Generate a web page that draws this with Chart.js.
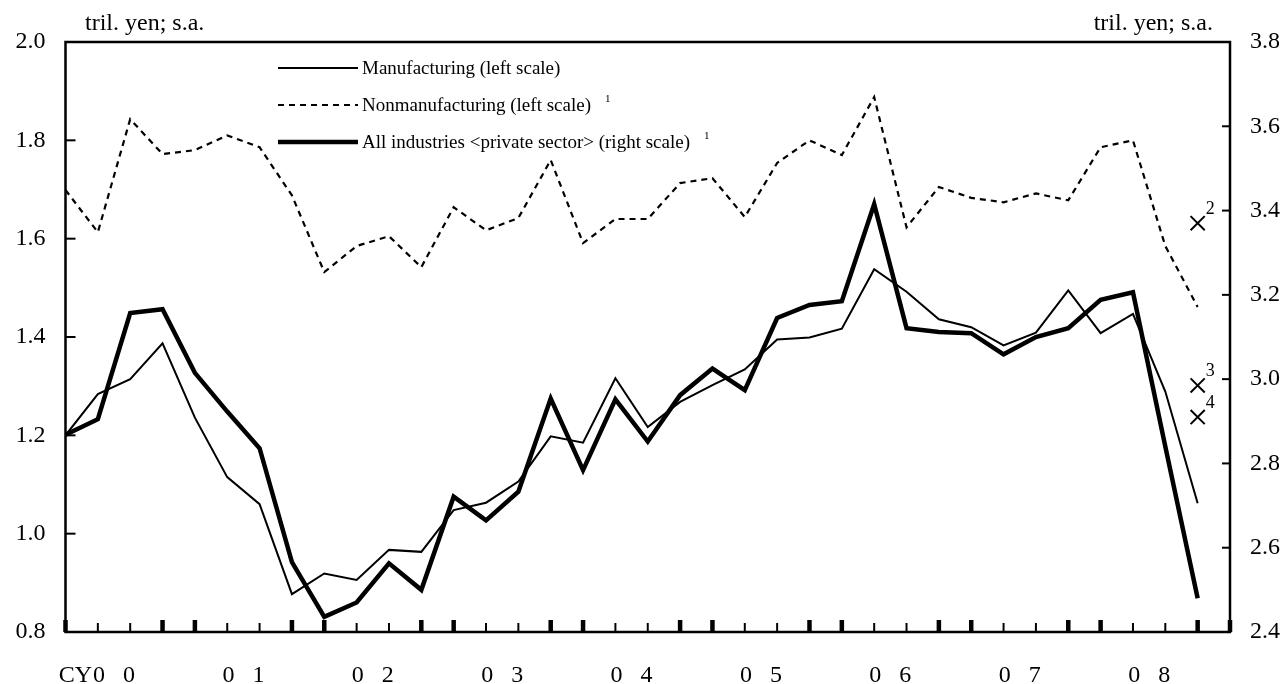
<!DOCTYPE html>
<html>
<head>
<meta charset="utf-8">
<script src="https://cdn.jsdelivr.net/npm/chart.js@4.4.0/dist/chart.umd.min.js"></script>
<style>
  html, body { margin: 0; padding: 0; background: #fff; }
  #wrap { width: 1285px; height: 684px; }
</style>
</head>
<body>
<div id="wrap"><canvas id="chart" width="1285" height="684"></canvas></div>
<script>
// quarterly, CY2000 Q1 .. CY2008 Q4
const yearLabels = ['00', '01', '02', '03', '04', '05', '06', '07', '08'];

// left scale, tril. yen
const manufacturing = [
  1.200, 1.284, 1.314, 1.387, 1.236, 1.115, 1.060, 0.877, 0.919, 0.906, 0.967, 0.963,
  1.048, 1.063, 1.106, 1.198, 1.185, 1.316, 1.217, 1.268, 1.302, 1.334, 1.395, 1.399,
  1.417, 1.538, 1.492, 1.436, 1.420, 1.383, 1.409, 1.495, 1.408, 1.447, 1.289, 1.062
];
const nonmanufacturing = [
  1.699, 1.613, 1.843, 1.772, 1.780, 1.810, 1.786, 1.688, 1.532, 1.585, 1.605, 1.542,
  1.664, 1.617, 1.642, 1.760, 1.591, 1.640, 1.640, 1.713, 1.723, 1.644, 1.754, 1.800,
  1.770, 1.888, 1.623, 1.705, 1.683, 1.674, 1.692, 1.678, 1.786, 1.800, 1.585, 1.461
];
// right scale, tril. yen
const allIndustries = [
  2.868, 2.905, 3.157, 3.166, 3.015, 2.923, 2.836, 2.566, 2.436, 2.470, 2.563, 2.500,
  2.721, 2.665, 2.733, 2.954, 2.784, 2.952, 2.852, 2.962, 3.025, 2.974, 3.145, 3.176,
  3.185, 3.415, 3.121, 3.112, 3.109, 3.059, 3.100, 3.121, 3.188, 3.206, 2.840, 2.480
];
// plan figures for the last quarter (right scale) and their note numbers
const planValues = [3.37, 2.985, 2.91];
const planNotes  = ['2', '3', '4'];

const legendItems = [
  { text: 'Manufacturing (left scale)', note: '', width: 2, dash: [] },
  { text: 'Nonmanufacturing (left scale)', note: '1', width: 2.2, dash: [6, 5] },
  { text: 'All industries <private sector> (right scale)', note: '1', width: 4.5, dash: [] },
];

const SERIF = "'Liberation Serif', 'Times New Roman', serif";
const toXY = (arr) => arr.map((v, i) => ({ x: i, y: v }));
const spaced = (s) => s.split('').join('   ');

// ── frame, inward ticks, legend, notes ──────────────────────────────────────

const decorPlugin = {
  id: 'decor',
  afterDraw(chart) {
    const { ctx, chartArea: a, scales } = chart;
    const xs = scales.x, yL = scales.yL, yR = scales.yR;
    ctx.save();
    ctx.strokeStyle = '#000';
    ctx.fillStyle = '#000';

    // frame
    ctx.lineWidth = 2.5;
    ctx.strokeRect(a.left, a.top, a.right - a.left, a.bottom - a.top);

    // y ticks pointing inward
    ctx.lineWidth = 2;
    yL.ticks.forEach(t => {
      const y = yL.getPixelForValue(t.value);
      ctx.beginPath(); ctx.moveTo(a.left, y); ctx.lineTo(a.left + 10, y); ctx.stroke();
    });
    yR.ticks.forEach(t => {
      const y = yR.getPixelForValue(t.value);
      ctx.beginPath(); ctx.moveTo(a.right, y); ctx.lineTo(a.right - 8, y); ctx.stroke();
    });

    // quarter ticks, heavier around each year boundary
    for (let i = 0; i <= yearLabels.length * 4; i++) {
      const x = xs.getPixelForValue(i);
      const heavy = i % 4 === 0 || i % 4 === 3;
      ctx.lineWidth = heavy ? 4.5 : 2;
      ctx.beginPath();
      ctx.moveTo(x, a.bottom);
      ctx.lineTo(x, a.bottom - (heavy ? 12 : 9));
      ctx.stroke();
    }

    // "CY" prefix in front of the first year label
    ctx.font = '24px ' + SERIF;
    ctx.textBaseline = 'middle';
    ctx.textAlign = 'right';
    const first = xs.getPixelForValue(1.5) - ctx.measureText(spaced(yearLabels[0])).width / 2;
    ctx.fillText('CY', first - 1, 676);

    // units
    ctx.font = '24px ' + SERIF;
    ctx.textAlign = 'left';
    ctx.fillText('tril. yen; s.a.', 85, 24);
    ctx.textAlign = 'right';
    ctx.fillText('tril. yen; s.a.', 1213, 24);

    // legend
    const rowY = [68, 105, 142];
    legendItems.forEach((it, k) => {
      const y = rowY[k];
      ctx.lineWidth = it.width;
      ctx.setLineDash(it.dash);
      ctx.beginPath(); ctx.moveTo(278, y); ctx.lineTo(358, y); ctx.stroke();
      ctx.setLineDash([]);
      ctx.font = '19px ' + SERIF;
      ctx.textAlign = 'left';
      ctx.fillText(it.text, 362, y + 1);
      if (it.note) {
        const w = ctx.measureText(it.text).width;
        ctx.font = '11px ' + SERIF;
        ctx.fillText(it.note, 362 + w + 14, y - 6);
      }
    });

    // note numbers beside the plan markers
    const meta = chart.getDatasetMeta(3);
    ctx.font = '18px ' + SERIF;
    ctx.textAlign = 'left';
    meta.data.forEach((pt, k) => {
      ctx.fillText(planNotes[k], pt.x + 8, pt.y - 14);
    });
    ctx.restore();
  }
};

const tickFont = { family: SERIF, size: 24 };

new Chart(document.getElementById('chart'), {
  type: 'line',
  data: {
    datasets: [
      { data: toXY(manufacturing), yAxisID: 'yL', borderColor: '#000', borderWidth: 2, pointRadius: 0, tension: 0 },
      { data: toXY(nonmanufacturing), yAxisID: 'yL', borderColor: '#000', borderWidth: 2.2, borderDash: [6, 5], pointRadius: 0, tension: 0 },
      { data: toXY(allIndustries), yAxisID: 'yR', borderColor: '#000', borderWidth: 4.5, pointRadius: 0, tension: 0 },
      {
        data: planValues.map(v => ({ x: yearLabels.length * 4 - 1, y: v })),
        yAxisID: 'yR', showLine: false, pointStyle: 'crossRot', pointRadius: 10,
        pointBorderWidth: 2, borderColor: '#000', backgroundColor: '#000', clip: false
      },
    ]
  },
  options: {
    responsive: false,
    animation: false,
    devicePixelRatio: 1,
    layout: { padding: { top: 42, left: 0, right: 0, bottom: 0 } },
    plugins: { legend: { display: false }, tooltip: { enabled: false } },
    scales: {
      x: {
        type: 'linear', min: 0, max: yearLabels.length * 4,
        grid: { display: false, drawTicks: false },
        border: { display: false },
        afterBuildTicks: (s) => { s.ticks = yearLabels.map((_, k) => ({ value: 1.5 + 4 * k })); },
        ticks: {
          autoSkip: false, maxRotation: 0, padding: 29, color: '#000', font: tickFont,
          callback: (v, i) => spaced(yearLabels[i])
        },
        afterFit: (s) => { s.height = 52; }
      },
      yL: {
        position: 'left', min: 0.8, max: 2.0,
        grid: { display: false, drawTicks: false },
        border: { display: false },
        ticks: { stepSize: 0.2, padding: 20, color: '#000', font: tickFont, callback: v => v.toFixed(1) },
        afterFit: (s) => { s.width = 65.5; }
      },
      yR: {
        position: 'right', min: 2.4, max: 3.8,
        grid: { display: false, drawTicks: false },
        border: { display: false },
        ticks: { stepSize: 0.2, padding: 20, color: '#000', font: tickFont, callback: v => v.toFixed(1) },
        afterFit: (s) => { s.width = 55; }
      }
    }
  },
  plugins: [decorPlugin]
});
</script>
</body>
</html>
